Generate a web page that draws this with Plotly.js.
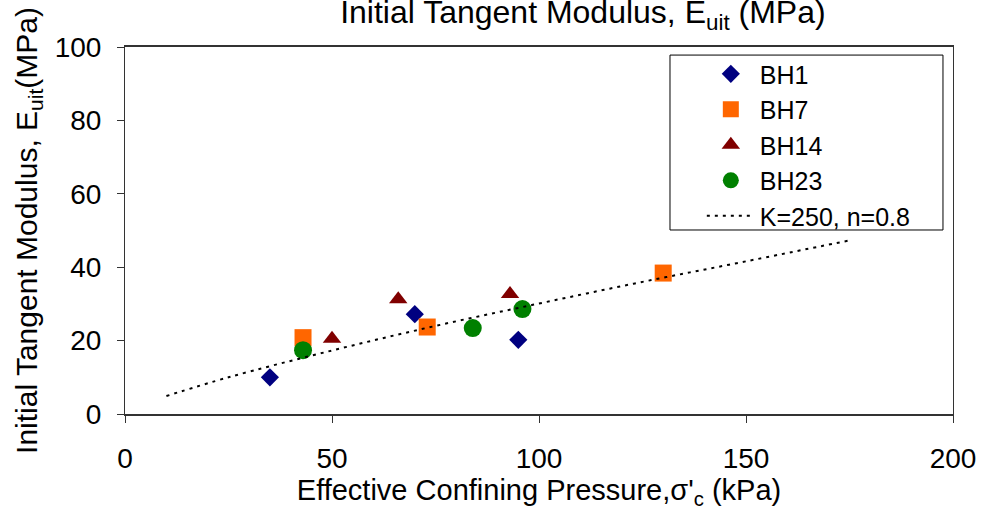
<!DOCTYPE html>
<html>
<head>
<meta charset="utf-8">
<script src="https://cdn.plot.ly/plotly-3.0.1.min.js"></script>
<style>html,body{margin:0;padding:0;background:#fff;}#chart{width:989px;height:512px;}</style>
</head>
<body>
<div id="chart"></div>
<script>
// Data
const bh1_x = [35, 70, 95];
const bh1_y = [10, 27.2, 20.2];
const bh7_x = [43, 73, 130];
const bh7_y = [20.8, 23.7, 38.4];
const bh14_x = [50, 66, 93];
const bh14_y = [20.5, 31.3, 32.7];
const bh23_x = [43, 84, 96];
const bh23_y = [17.4, 23.4, 28.6];
// Hyperbolic model curve K=250, n=0.8
const fit_x = [10, 25, 50, 75, 100, 125, 150, 175];
const fit_y = [4.9, 10.0, 17.3, 24.0, 30.1, 36.0, 41.6, 47.3];
const xTicks = [0, 50, 100, 150, 200];
const yTicks = [0, 20, 40, 60, 80, 100];

const FONT = 'Liberation Sans, Arial, sans-serif';

const traces = [
  {x: bh1_x, y: bh1_y, name: 'BH1', mode: 'markers', type: 'scatter',
   marker: {symbol: 'diamond', size: 14, color: '#000080'}},
  {x: bh7_x, y: bh7_y, name: 'BH7', mode: 'markers', type: 'scatter',
   marker: {symbol: 'square', size: 17, color: '#FF6600'}},
  {x: bh14_x, y: bh14_y, name: 'BH14', mode: 'markers', type: 'scatter',
   marker: {symbol: 'triangle-up', size: 16, color: '#800000'}},
  {x: bh23_x, y: bh23_y, name: 'BH23', mode: 'markers', type: 'scatter',
   marker: {symbol: 'circle', size: 18, color: '#008000'}},
  {x: fit_x, y: fit_y, name: 'K=250, n=0.8', mode: 'lines', type: 'scatter',
   line: {color: '#000', width: 2, dash: '3px,5px', shape: 'spline'}}
];

const layout = {
  width: 989, height: 512,
  margin: {l: 125, r: 36, t: 47, b: 98},
  paper_bgcolor: '#fff', plot_bgcolor: '#fff',
  font: {family: FONT, color: '#000', size: 28},
  showlegend: true,
  title: {
    text: 'Initial Tangent Modulus, E<sub>uit</sub> (MPa)',
    font: {family: FONT, size: 32, color: '#000'},
    x: 0.553, xref: 'paper', xanchor: 'center',
    y: 0.977, yref: 'container', yanchor: 'middle'
  },
  xaxis: {
    range: [0, 200], tickvals: xTicks, ticktext: xTicks.map(String),
    showgrid: false, zeroline: false,
    showline: true, linecolor: '#333', linewidth: 2, mirror: true,
    ticks: 'outside', ticklen: 7, tickcolor: '#333', tickwidth: 1,
    ticklabelstandoff: 11,
    tickfont: {family: FONT, size: 28, color: '#000'},
    title: {text: "Effective Confining Pressure,σ'<sub>c</sub> (kPa)",
            font: {family: FONT, size: 29, color: '#000'}, standoff: 6}
  },
  yaxis: {
    range: [0, 100], tickvals: yTicks, ticktext: yTicks.map(String),
    showgrid: false, zeroline: false,
    showline: true, linecolor: '#333', linewidth: 1, mirror: true,
    ticks: 'outside', ticklen: 7, tickcolor: '#333', tickwidth: 1,
    ticklabelstandoff: 10,
    tickfont: {family: FONT, size: 28, color: '#000'},
    title: {text: 'Initial Tangent Modulus, E<sub>uit</sub>(MPa)',
            font: {family: FONT, size: 30, color: '#000'}, standoff: 8}
  },
  shapes: [{
    type: 'rect', xref: 'paper', yref: 'paper', layer: 'below',
    x0: 0.6582, x1: 0.9879, y0: 0.5014, y1: 0.978,
    line: {color: '#000', width: 1}, fillcolor: '#fff'
  }],
  legend: {
    x: 0.658, y: 0.989, xanchor: 'left', yanchor: 'top',
    bgcolor: 'rgba(0,0,0,0)', borderwidth: 0,
    font: {family: FONT, size: 25, color: '#000'},
    indentation: 32, itemwidth: 48
  }
};

Plotly.newPlot('chart', traces, layout, {displayModeBar: false, staticPlot: true});
</script>
</body>
</html>
